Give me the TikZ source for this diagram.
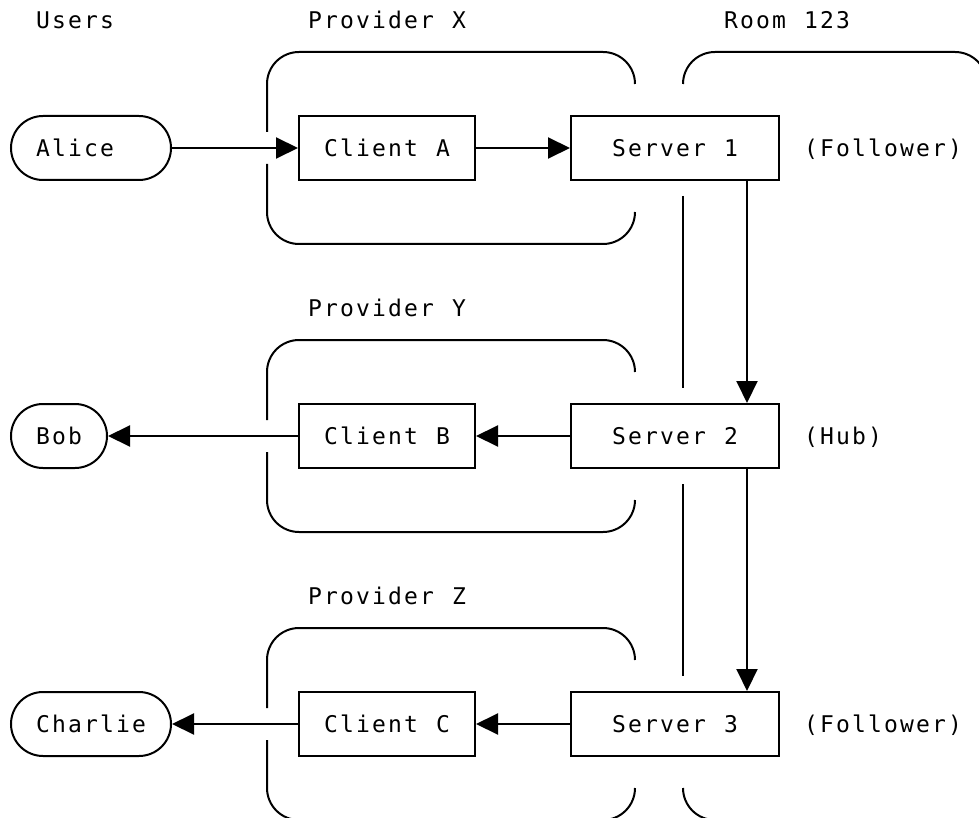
\documentclass[tikz,border=0pt]{standalone}
\usepackage{fontspec}
\setmonofont{DejaVu Sans Mono}
\usetikzlibrary{arrows.meta}

% set a string on a fixed 16pt character grid (use ~ for a blank cell)
\def\gridstop{\relax}
\newcommand\gridtxt[1]{\gridloop#1\gridstop}
\def\gridloop#1{\ifx#1\gridstop\else\makebox[16pt]{#1}\expandafter\gridloop\fi}

\tikzset{
  gridfont/.style={font=\ttfamily\fontsize{23}{23}\selectfont},
  provframe/.style={line width=2pt, rounded corners=32pt},
  box/.style={draw, line width=2pt, inner sep=0pt, minimum height=64pt,
    gridfont, text height=17pt, text depth=0pt},
  pill/.style={box, rounded corners=32pt},
  lbl/.style={inner sep=0pt, gridfont, text height=17pt, text depth=0pt},
  arr/.style={line width=2pt, -{Triangle[length=22pt,width=21pt]}},
}

\begin{document}
\begin{tikzpicture}[x=1pt, y=-1pt]
\useasboundingbox (0,0) rectangle (979,818);

% column headings
\node[lbl] (users) at (75,20) {\gridtxt{Users}};
\node[lbl] (provX) at (387,20) {\gridtxt{Provider~X}};
\node[lbl] (room) at (787,20) {\gridtxt{Room~123}};
\node[lbl] (provY) at (387,308) {\gridtxt{Provider~Y}};
\node[lbl] (provZ) at (387,596) {\gridtxt{Provider~Z}};

% provider frames
\draw[provframe] (267,132) -- (267,52) -- (635,52) -- (635,84);
\draw[provframe] (267,164) -- (267,244) -- (635,244) -- (635,212);
\draw[provframe] (267,420) -- (267,340) -- (635,340) -- (635,372);
\draw[provframe] (267,452) -- (267,532) -- (635,532) -- (635,500);
\draw[provframe] (267,708) -- (267,628) -- (635,628) -- (635,660);
\draw[provframe] (267,740) -- (267,820) -- (635,820) -- (635,788);

% room frame
\draw[provframe] (683,84) -- (683,52) -- (987,52) -- (987,84);
\draw[provframe] (683,196) -- (683,388);
\draw[provframe] (683,484) -- (683,676);
\draw[provframe] (683,788) -- (683,820) -- (760,820);

% users
\node[pill, minimum width=160pt] (alice) at (91,148) {\gridtxt{Alice~~}};
\node[pill, minimum width=96pt] (bob) at (59,436) {\gridtxt{Bob}};
\node[pill, minimum width=160pt] (charlie) at (91,724) {\gridtxt{Charlie}};

% clients
\node[box, minimum width=176pt] (clientA) at (387,148) {\gridtxt{Client~A}};
\node[box, minimum width=176pt] (clientB) at (387,436) {\gridtxt{Client~B}};
\node[box, minimum width=176pt] (clientC) at (387,724) {\gridtxt{Client~C}};

% servers
\node[box, minimum width=208pt] (server1) at (675,148) {\gridtxt{Server~1}};
\node[box, minimum width=208pt] (server2) at (675,436) {\gridtxt{Server~2}};
\node[box, minimum width=208pt] (server3) at (675,724) {\gridtxt{Server~3}};

% roles
\node[lbl] (role1) at (883,148) {\gridtxt{(Follower)}};
\node[lbl] (role2) at (843,436) {\gridtxt{(Hub)}};
\node[lbl] (role3) at (883,724) {\gridtxt{(Follower)}};

% message flow
\draw[arr] (alice) -- (clientA);
\draw[arr] (clientA) -- (server1);
\draw[arr] ([xshift=72pt]server1.south) -- ([xshift=72pt]server2.north);
\draw[arr] ([xshift=72pt]server2.south) -- ([xshift=72pt]server3.north);
\draw[arr] (server2) -- (clientB);
\draw[arr] (clientB) -- (bob);
\draw[arr] (server3) -- (clientC);
\draw[arr] (clientC) -- (charlie);
\end{tikzpicture}
\end{document}
